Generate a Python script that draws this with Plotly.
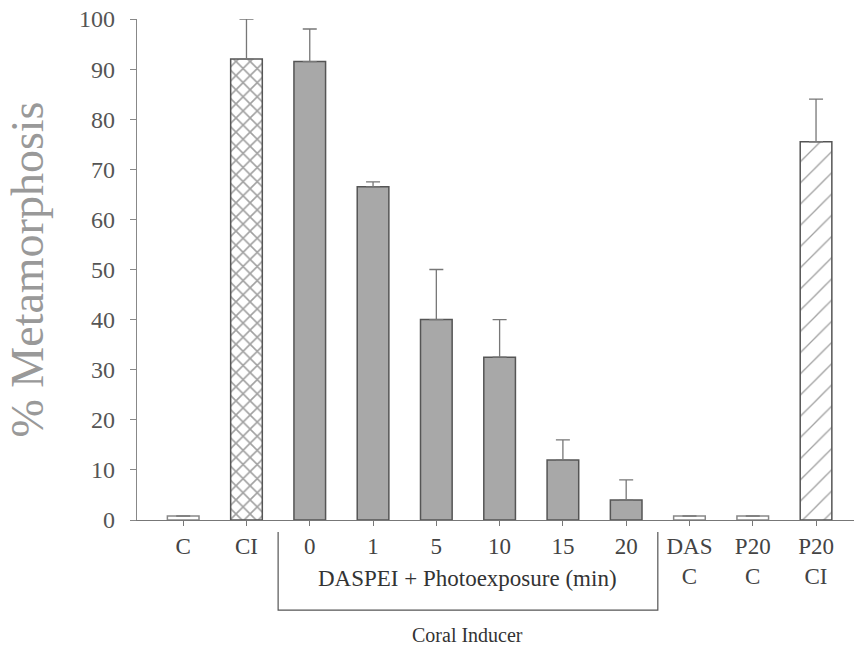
import plotly.graph_objects as go

labels = ["C", "CI", "0", "1", "5", "10", "15", "20", "DAS<br>C", "P20<br>C", "P20<br>CI"]
values = [0.8, 92, 91.5, 66.5, 40, 32.5, 12, 4, 0.8, 0.8, 75.5]
err_up = [0, 8, 6.5, 1, 10, 7.5, 4, 4, 0, 0, 8.5]
yticks = [0, 10, 20, 30, 40, 50, 60, 70, 80, 90, 100]

fills = ["white", "white"] + ["#a8a8a8"] * 6 + ["white", "white", "white"]
edges = ["#888888", "#555555"] + ["#555555"] * 6 + ["#888888", "#888888", "#555555"]
patterns = ["", "x", "", "", "", "", "", "", "", "", "/"]
pat_sizes = [10, 10, 10, 10, 10, 10, 10, 10, 10, 10, 15]
pat_solid = [0.2, 0.3, 0.2, 0.2, 0.2, 0.2, 0.2, 0.2, 0.2, 0.2, 0.09]

x = list(range(len(labels)))

fig = go.Figure()
fig.add_trace(go.Bar(
    x=x, y=values, width=0.5,
    marker=dict(color=fills, line=dict(color=edges, width=1.5),
                pattern=dict(shape=patterns, fgcolor="#2a2a2a", bgcolor="white",
                             size=pat_sizes, solidity=pat_solid)),
    error_y=dict(type="data", symmetric=False, array=err_up,
                 arrayminus=[0] * len(values), color="#777777", thickness=1.3, width=7),
    showlegend=False,
))

font_serif = "Liberation Serif"
fig.update_layout(
    width=854, height=650,
    margin=dict(l=137, r=0, t=19, b=130),
    plot_bgcolor="white", paper_bgcolor="white",
    font=dict(family=font_serif, color="#555555"),
)
fig.update_xaxes(
    range=[-0.73, 10.6], tickvals=x, ticktext=labels,
    showline=True, linecolor="#777777", linewidth=1.3,
    ticks="outside", ticklen=5, tickcolor="#777777",
    tickfont=dict(size=23, family=font_serif, color="#444444"),
    showgrid=False, zeroline=False,
)
fig.update_yaxes(
    range=[0, 100], tickvals=yticks,
    showline=True, linecolor="#888888", linewidth=1.3,
    ticks="outside", ticklen=6, tickcolor="#888888",
    ticklabelstandoff=10,
    tickfont=dict(size=24, family=font_serif, color="#555555"),
    showgrid=False, zeroline=False,
    title=dict(text="% Metamorphosis", font=dict(size=46, family=font_serif, color="#999999"),
               standoff=20),
)

# bracket for DASPEI group
fig.add_shape(type="path", xref="x", yref="paper",
              path="M 1.5,-0.024 L 1.5,-0.18 L 7.5,-0.18 L 7.5,-0.024",
              line=dict(color="#555555", width=1.2))
fig.add_annotation(x=4.5, y=-0.116, xref="x", yref="paper", showarrow=False,
                   yanchor="middle", xanchor="center",
                   text="DASPEI + Photoexposure (min)",
                   font=dict(size=23, family=font_serif, color="#333333"))
fig.add_annotation(x=4.5, y=-0.230, xref="x", yref="paper", showarrow=False,
                   yanchor="middle", xanchor="center",
                   text="Coral Inducer",
                   font=dict(size=20, family=font_serif, color="#333333"))

fig.write_html("out.html")
